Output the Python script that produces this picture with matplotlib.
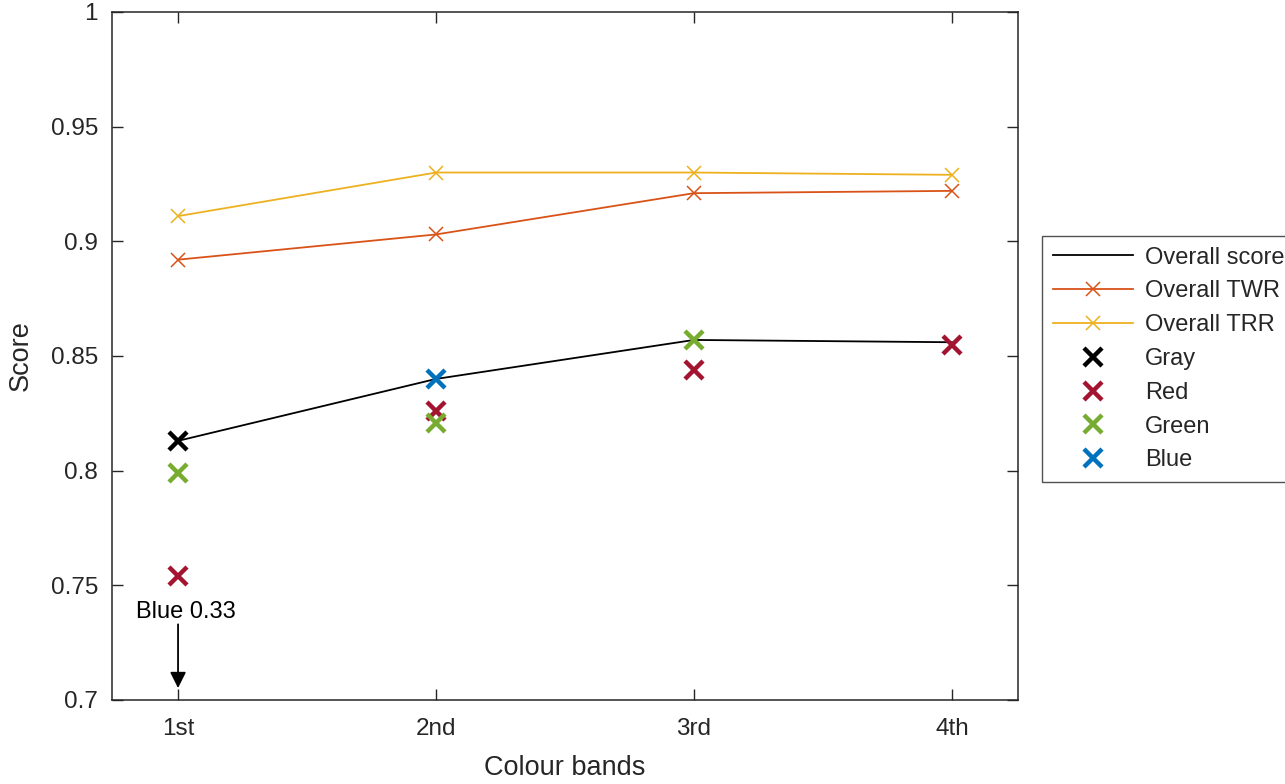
import numpy as np
import matplotlib
matplotlib.use("Agg")
import matplotlib.pyplot as plt

plt.rcParams['font.family'] = ['Liberation Sans', 'DejaVu Sans']

bands = ["1st", "2nd", "3rd", "4th"]
overall_score = [0.813, 0.840, 0.857, 0.856]
overall_twr = [0.892, 0.903, 0.921, 0.922]
overall_trr = [0.911, 0.930, 0.930, 0.929]
gray = [0.813, np.nan, np.nan, np.nan]
red = [0.754, 0.826, 0.844, 0.855]
green = [0.799, 0.821, 0.857, np.nan]
blue = [0.33, 0.840, np.nan, np.nan]

x = np.arange(1, len(bands) + 1)
axc = '#262626'

fig = plt.figure(figsize=(12.85, 7.84), dpi=100)
ax = fig.add_axes([112/1285, 84/784, (1018-112)/1285, (700-12)/784])

ax.plot(x, overall_score, color='black', lw=1.3, label='Overall score')
ax.plot(x, overall_twr, color='#D95319', lw=1.3, marker='x', ms=10, mew=1.1, label='Overall TWR')
ax.plot(x, overall_trr, color='#EDB120', lw=1.3, marker='x', ms=10, mew=1.1, label='Overall TRR')
kw = dict(ls='none', marker='x', ms=13, mew=3.2)
ax.plot(x, gray, color='black', label='Gray', **kw)
ax.plot(x, red, color='#A2142F', label='Red', **kw)
ax.plot(x, green, color='#77AC30', label='Green', **kw)
ax.plot(x, blue, color='#0072BD', label='Blue', **kw)

ax.set_xlim(0.744, 4.256)
ax.set_ylim(0.7, 1.0)
ax.set_xticks(x)
ax.set_xticklabels(bands)
yt = [0.7, 0.75, 0.8, 0.85, 0.9, 0.95, 1.0]
ax.set_yticks(yt)
ax.set_yticklabels(['%g' % v for v in yt])
ax.tick_params(direction='in', length=8, width=1, colors=axc, labelsize=17.5,
               top=True, right=True)
ax.tick_params(axis='x', pad=13)
ax.tick_params(axis='y', pad=10)
for s in ax.spines.values():
    s.set_color(axc)
    s.set_linewidth(1.1)
ax.set_xlabel('Colour bands', fontsize=19.5, color=axc, labelpad=11)
ax.set_ylabel('Score', fontsize=19.5, color=axc, labelpad=12)

# off-scale Blue 1st value
ax.annotate('', xy=(1, 0.7052), xytext=(1, 0.7330),
            arrowprops=dict(arrowstyle='-|>', color='black', lw=1.3, mutation_scale=24,
                            shrinkA=0, shrinkB=0))
ax.text(1.03, 0.7385, 'Blue 0.33', ha='center', va='center', fontsize=17, color='black')

leg = fig.legend(loc='upper left', bbox_to_anchor=(1042/1285, 1 - 236/784),
                 borderaxespad=0,
                 fontsize=17, frameon=True, fancybox=False, edgecolor=axc,
                 handlelength=3.4, labelspacing=0.5, borderpad=0.45, handletextpad=0.5)
leg.get_frame().set_linewidth(1.0)
for t in leg.get_texts():
    t.set_color(axc)

fig.savefig('out.png', dpi=100)
